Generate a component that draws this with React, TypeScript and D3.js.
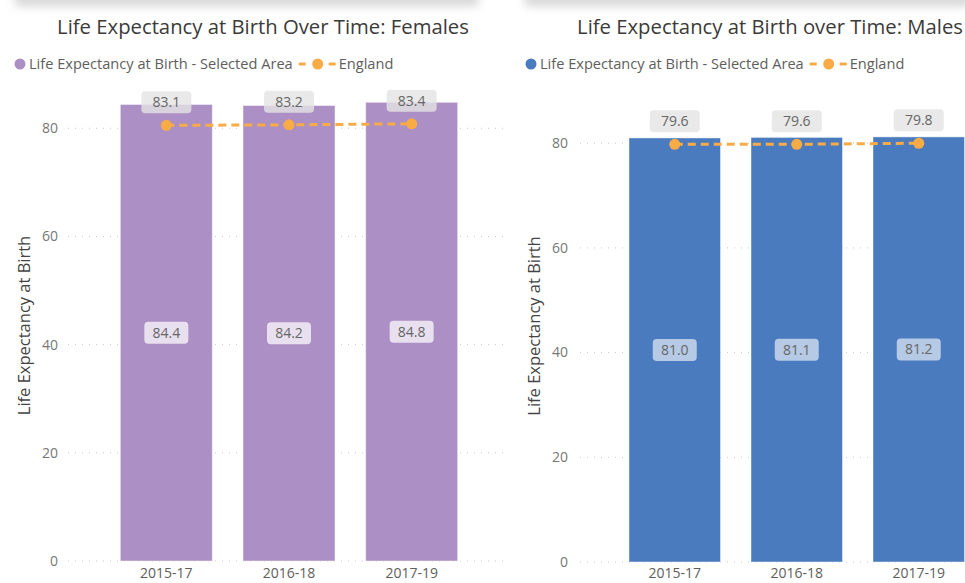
import React, { Component } from "react";
import * as d3 from "d3";

// values
const periods = ["2015-17", "2016-18", "2017-19"];
const femaleArea = [84.4, 84.2, 84.8];
const femaleEngland = [83.1, 83.2, 83.4];
const maleArea = [81.0, 81.1, 81.2];
const maleEngland = [79.6, 79.6, 79.8];
const yTicks = [0, 20, 40, 60, 80];

const titles = [
  "Life Expectancy at Birth Over Time: Females",
  "Life Expectancy at Birth over Time: Males",
];
const areaLegend = "Life Expectancy at Birth - Selected Area";
const englandLegend = "England";
const yAxisTitle = "Life Expectancy at Birth";

const FONT = "'Open Sans', 'Noto Sans', sans-serif";
const lineColor = "#F9AC45";

// layout per panel
const panels = [
  {
    title: titles[0], area: femaleArea, england: femaleEngland, color: "#AC8FC4",
    x0: 105, x1: 473, y0: 561, yTop: 85, yMax: 88, lineMax: 90.8,
    gridX0: 68, gridX1: 508, tickX: 58, axisTitleX: 24, titleX: 263, legendX: 20,
    labelOpacity: 0.72, shadowX0: 15, shadowX1: 478,
  },
  {
    title: titles[1], area: maleArea, england: maleEngland, color: "#4A7BBE",
    x0: 613.75, x1: 979.75, y0: 562, yTop: 117, yMax: 85, lineMax: 84.8,
    gridX0: 580, gridX1: 965, tickX: 568, axisTitleX: 534, titleX: 770, legendX: 531,
    labelOpacity: 0.6, shadowX0: 525, shadowX1: 970,
  },
];

class App extends Component {
  svgRef = React.createRef<SVGSVGElement>();

  componentDidMount() {
    document.body.style.margin = "0";
    this.draw();
  }

  draw() {
    const svg = d3.select(this.svgRef.current);
    svg.selectAll("*").remove();
    const fmt = d3.format(".1f");

    const defs = svg.append("defs");
    defs.append("filter").attr("id", "blur")
      .attr("x", "-10%").attr("y", "-100%").attr("width", "120%").attr("height", "300%")
      .append("feGaussianBlur").attr("stdDeviation", 5);

    panels.forEach((p) => {
      const g = svg.append("g");

      // shadow of the panel header
      g.append("rect")
        .attr("x", p.shadowX0).attr("y", -8)
        .attr("width", p.shadowX1 - p.shadowX0).attr("height", 14)
        .attr("fill", "#d6d6d6").attr("filter", "url(#blur)");

      const x = d3.scaleBand().domain(periods).range([p.x0, p.x1])
        .paddingInner(0.25).paddingOuter(0.125);
      const y = d3.scaleLinear().domain([0, p.yMax]).range([p.y0, p.yTop]);
      const yLine = d3.scaleLinear().domain([0, p.lineMax]).range([p.y0, p.yTop]);

      // title
      g.append("text")
        .attr("x", p.titleX).attr("y", 34)
        .attr("text-anchor", "middle")
        .style("font-family", FONT).style("font-size", "20.3px")
        .style("fill", "#3b3a39")
        .text(p.title);

      // legend
      g.append("circle").attr("cx", p.legendX).attr("cy", 64).attr("r", 5.5).attr("fill", p.color);
      const lt = g.append("text")
        .attr("x", p.legendX + 9).attr("y", 69)
        .style("font-family", FONT).style("font-size", "14.6px").style("fill", "#605E5C")
        .text(areaLegend);
      const end = p.legendX + 9 + (lt.node() as SVGTextElement).getComputedTextLength();
      g.append("line").attr("x1", end + 6).attr("x2", end + 13).attr("y1", 64).attr("y2", 64)
        .attr("stroke", lineColor).attr("stroke-width", 3);
      g.append("circle").attr("cx", end + 25).attr("cy", 64).attr("r", 5.5).attr("fill", lineColor);
      g.append("line").attr("x1", end + 36).attr("x2", end + 43).attr("y1", 64).attr("y2", 64)
        .attr("stroke", lineColor).attr("stroke-width", 3);
      g.append("text")
        .attr("x", end + 46).attr("y", 69)
        .style("font-family", FONT).style("font-size", "14.6px").style("fill", "#605E5C")
        .text(englandLegend);

      // gridlines + y tick labels
      g.selectAll(".grid").data(yTicks).join("line").attr("class", "grid")
        .attr("x1", p.gridX0).attr("x2", p.gridX1)
        .attr("y1", (d) => y(d)).attr("y2", (d) => y(d))
        .attr("stroke", "#c8c8c8").attr("stroke-width", 1)
        .attr("stroke-dasharray", "1,6");
      g.selectAll(".ytick").data(yTicks).join("text").attr("class", "ytick")
        .attr("x", p.tickX).attr("y", (d) => y(d)).attr("dy", "0.35em")
        .attr("text-anchor", "end")
        .style("font-family", FONT).style("font-size", "14px").style("fill", "#777")
        .text((d) => d);

      // y axis title
      g.append("text")
        .attr("transform", `translate(${p.axisTitleX},${(p.y0 + 90) / 2}) rotate(-90)`)
        .attr("dy", "0.35em")
        .attr("text-anchor", "middle")
        .style("font-family", FONT).style("font-size", "16.5px").style("fill", "#444")
        .text(yAxisTitle);

      // bars
      g.selectAll(".bar").data(p.area).join("rect").attr("class", "bar")
        .attr("x", (d, i) => x(periods[i]))
        .attr("y", (d) => y(d))
        .attr("width", x.bandwidth())
        .attr("height", (d) => y(0) - y(d))
        .attr("fill", p.color)
        .attr("stroke", "#fff").attr("stroke-opacity", 0.45).attr("stroke-width", 1);

      // x labels
      g.selectAll(".xtick").data(periods).join("text").attr("class", "xtick")
        .attr("x", (d) => x(d) + x.bandwidth() / 2).attr("y", 578)
        .attr("text-anchor", "middle")
        .style("font-family", FONT).style("font-size", "14px").style("fill", "#605E5C")
        .text((d) => d);

      // bar labels
      const bl = g.selectAll(".blab").data(p.area).join("g").attr("class", "blab")
        .attr("transform", (d, i) =>
          `translate(${x(periods[i]) + x.bandwidth() / 2},${(y(d) + y(0)) / 2})`);
      bl.append("rect").attr("x", -22).attr("y", -11).attr("width", 44).attr("height", 22)
        .attr("rx", 4).attr("fill", "#fff").attr("fill-opacity", p.labelOpacity);
      bl.append("text").attr("dy", "0.35em").attr("text-anchor", "middle")
        .style("font-family", FONT).style("font-size", "14px").style("fill", "#666")
        .text((d) => fmt(d));

      // England line
      const line = d3.line<number>()
        .x((d, i) => x(periods[i]) + x.bandwidth() / 2)
        .y((d) => yLine(d));
      g.append("path").datum(p.england)
        .attr("d", line)
        .attr("fill", "none").attr("stroke", lineColor)
        .attr("stroke-width", 3).attr("stroke-dasharray", "8,5");
      g.selectAll(".dot").data(p.england).join("circle").attr("class", "dot")
        .attr("cx", (d, i) => x(periods[i]) + x.bandwidth() / 2)
        .attr("cy", (d) => yLine(d))
        .attr("r", 5.5).attr("fill", lineColor);

      // England labels
      const el = g.selectAll(".elab").data(p.england).join("g").attr("class", "elab")
        .attr("transform", (d, i) =>
          `translate(${x(periods[i]) + x.bandwidth() / 2},${yLine(d) - 23})`);
      el.append("rect").attr("x", -25).attr("y", -11).attr("width", 50).attr("height", 22)
        .attr("rx", 4).attr("fill", "#e4e4e4").attr("fill-opacity", 0.8);
      el.append("text").attr("dy", "0.35em").attr("text-anchor", "middle")
        .style("font-family", FONT).style("font-size", "14px").style("fill", "#666")
        .text((d) => fmt(d));
    });
  }

  render() {
    return (
      <svg ref={this.svgRef} width={965} height={583}
        style={{ position: "absolute", left: 0, top: 0, background: "#fff" }} />
    );
  }
}

export default App;
